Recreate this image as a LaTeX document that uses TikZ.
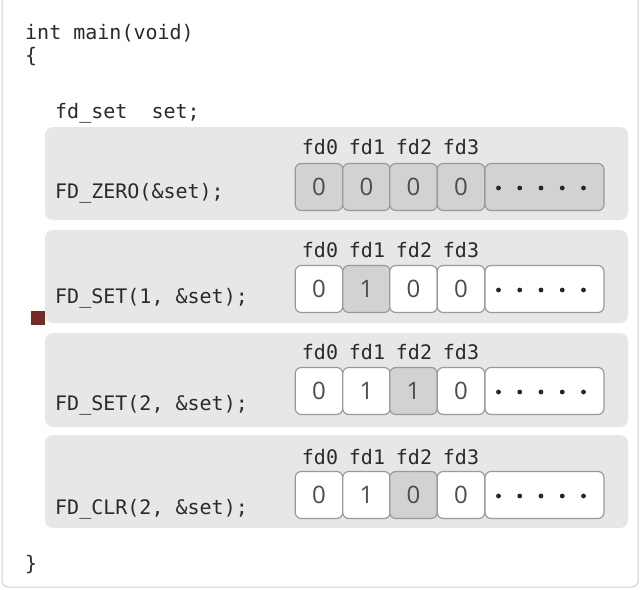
\documentclass[tikz,border=0pt]{standalone}
\usepackage{fontspec}
\usetikzlibrary{calc}
\setmonofont{DejaVu Sans Mono}
\newfontfamily\digitfont{Open Sans}
\definecolor{codetext}{HTML}{2A2A2A}
\definecolor{panelfill}{HTML}{E7E7E8}
\definecolor{cellline}{HTML}{9A9A9A}
\definecolor{cellgray}{HTML}{D2D2D3}
\definecolor{framecol}{HTML}{CFCFCF}
\definecolor{markred}{HTML}{7A2A25}
\begin{document}
\begin{tikzpicture}[x=1pt,y=-1pt,
  code/.style={anchor=west,inner sep=0pt,font=\ttfamily\fontsize{20}{22}\selectfont,text=codetext},
  fdlabel/.style={inner sep=0pt,font=\ttfamily\fontsize{20}{22}\selectfont,text=codetext},
  panel/.style={fill=panelfill,draw=none,rounded corners=8pt},
  cell/.style={draw=cellline,line width=1.2pt,rounded corners=6pt,minimum width=47.5pt,minimum height=47pt,inner sep=0pt,fill=white,font=\digitfont\fontsize{24}{28}\selectfont,text=black!70},
  graycell/.style={cell,fill=cellgray},
  dotcell/.style={cell,minimum width=119pt}
]
\useasboundingbox (0,0) rectangle (641,590);
\fill[white] (0,0) rectangle (641,590);
\draw[framecol,line width=1pt,rounded corners=6pt] (2,-12) rectangle (638,587);

% code lines
\node[code] (l1) at (25,33) {int main(void)};
\node[code] (l2) at (25,57) {\{};
\node[code] (l3) at (55,113) {fd\_set\ \ set;};
\node[code] (l9) at (25,565) {\}};

% panels: top, bottom, label y, code y
\foreach \i/\top/\bot/\ly/\ty/\txt in {
  1/127/220/147/193/{FD\_ZERO(\&set);},
  2/230/323/250/298/{FD\_SET(1, \&set);},
  3/333/427/352/405/{FD\_SET(2, \&set);},
  4/435/528/457/509/{FD\_CLR(2, \&set);}}{
  \fill[panel] (45,\top) rectangle (628,\bot);
  \node[code] (call\i) at (55,\ty) {\txt};
  \node[fdlabel] (fdA\i) at (320,\ly) {fd0};
  \node[fdlabel] (fdB\i) at (367,\ly) {fd1};
  \node[fdlabel] (fdC\i) at (414,\ly) {fd2};
  \node[fdlabel] (fdD\i) at (461,\ly) {fd3};
}

% row 1
\node[graycell] (c10) at (319,187) {0};
\node[graycell] (c11) at (366.5,187) {0};
\node[graycell] (c12) at (413.5,187) {0};
\node[graycell] (c13) at (461,187) {0};
\node[dotcell,fill=cellgray] (c1d) at (544.5,187) {};
% row 2
\node[cell] (c20) at (319,289) {0};
\node[graycell] (c21) at (366.5,289) {1};
\node[cell] (c22) at (413.5,289) {0};
\node[cell] (c23) at (461,289) {0};
\node[dotcell] (c2d) at (544.5,289) {};
% row 3
\node[cell] (c30) at (319,391) {0};
\node[cell] (c31) at (366.5,391) {1};
\node[graycell] (c32) at (413.5,391) {1};
\node[cell] (c33) at (461,391) {0};
\node[dotcell] (c3d) at (544.5,391) {};
% row 4
\node[cell] (c40) at (319,495) {0};
\node[cell] (c41) at (366.5,495) {1};
\node[graycell] (c42) at (413.5,495) {0};
\node[cell] (c43) at (461,495) {0};
\node[dotcell] (c4d) at (544.5,495) {};

\foreach \r in {1,2,3,4}{
  \foreach \k in {0,...,4}{
    \fill[black!85] ($(c\r d.center)+(-46+21.25*\k,1)$) circle (2.4pt);
  }
}

% marker
\node[fill=markred,minimum size=14pt,inner sep=0pt] (marker) at (38,318) {};
\end{tikzpicture}
\end{document}
